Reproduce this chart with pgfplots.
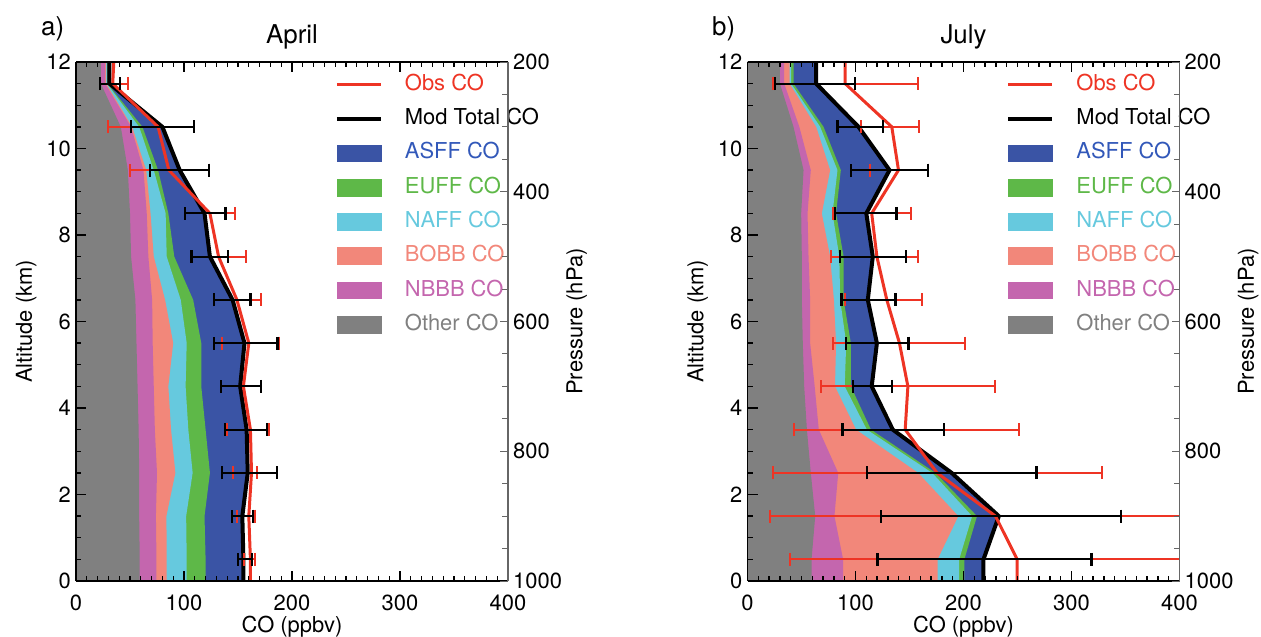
\documentclass[border=0pt]{standalone}
\usepackage{pgfplots}
\pgfplotsset{compat=1.18}
\usepackage{pgfplotstable}
\usepackage{fontspec}
\setmainfont{TeX Gyre Heros}

\definecolor{cother}{RGB}{128,128,128}
\definecolor{cnbbb}{RGB}{196,102,174}
\definecolor{cbobb}{RGB}{242,135,122}
\definecolor{cnaff}{RGB}{102,201,222}
\definecolor{ceuff}{RGB}{94,184,72}
\definecolor{casff}{RGB}{58,84,165}
\definecolor{cobs}{RGB}{238,52,36}
\definecolor{tasff}{RGB}{50,88,185}

% cumulative boundaries (ppbv): c1 Other, c2 +NBBB, c3 +BOBB, c4 +NAFF, c5 +EUFF, c6 +ASFF (= Mod total)
% last two rows close each area back along x = 0
\pgfplotstableread{
alt c1 c2 c3 c4 c5 c6
0 59 74.5 84 102.5 120 155
0.5 59 74.5 84 102.5 120 155
1.5 58.5 74 83.7 102 119 154
2.5 58.5 75 92 108 124 159
3.5 58 73 88 104 120 158
4.5 57 72 85.5 101.5 116 152
5.5 56 71 90 102.5 116 156
6.5 55 70.5 82.5 97 108.5 145
7.5 51 67 72 84 91 124
8.5 50 65.5 69 83 85.5 119
9.5 48 62.5 65 72 76 96
10.5 41.5 51 52 58.5 61.5 80
11.5 23 27 28 28.6 29.2 31
12 23 27 28 28.6 29.2 31
12 0 0 0 0 0 0
0 0 0 0 0 0 0
}\areaA

\pgfplotstableread{
alt mod obs
0 155 161.5
0.5 155 161.5
1.5 154 160
2.5 159 162.5
3.5 158 161.5
4.5 152 155
5.5 156 160
6.5 145 149
7.5 124 132
8.5 119 124
9.5 96 86
10.5 80 76
11.5 31 34
12 31 35
}\lineA

\pgfplotstableread{
alt c1 c2 c3 c4 c5 c6
0 59.3 88.5 176 196 200.8 218.5
0.5 59.3 88.5 176 196 200.8 218.5
1.5 62.7 80.5 195.2 208 212.5 232.7
2.5 58.6 84 158 171 174 189
3.5 55 66 100.5 110.5 114.3 134.5
4.5 52.5 62.2 81 90 95.7 115
5.5 51.2 58 82 91.4 95.7 119.8
6.5 50.3 58 80 85.8 89 111.4
7.5 50.3 56.5 76.5 85 89 116
8.5 49.7 55.6 68.8 78.7 82 110
9.5 51.9 58.6 76.5 83.3 86.4 131.5
10.5 42.6 48 63.6 67.3 70.4 102.8
11.5 30 34 39 40.4 42.6 63.6
12 30 34 39 40.4 42.6 63.6
12 0 0 0 0 0 0
0 0 0 0 0 0 0
}\areaB

\pgfplotstableread{
alt mod obs
0 218.5 249.7
0.5 218.5 249.7
1.5 232.7 229.6
2.5 189 175.5
3.5 134.5 146
4.5 115 148.5
5.5 119.8 140.7
6.5 111.4 129
7.5 116 119.8
8.5 110 115
9.5 131.5 139.8
10.5 102.8 133.6
11.5 63.6 90.4
12 63.6 90.4
}\lineB

\pgfplotstableread{
alt mod em ep
0.5 155 5 8
1.5 154 9.4 10
2.5 159 24 27
3.5 158 20 19
4.5 152 18 19
5.5 156 28 30.5
6.5 145 17 16.5
7.5 124 17 16.6
8.5 119 18.4 19.5
9.5 96 27.4 27
10.5 80 29 29
11.5 31 9 10
}\merrA

\pgfplotstableread{
alt obs em ep
0.5 161.5 6.1 4.5
1.5 160 11 6
2.5 162.5 17.5 5.5
3.5 161.5 21.5 17.5
5.5 160 25 28
6.5 149 21 22
7.5 132 25 25.5
8.5 124 23.4 22.8
9.5 86 36 37
10.5 76 46 33
11.5 34 12 13.7
}\oerrA

\pgfplotstableread{
alt mod em ep
0.5 218.5 98.1 100
1.5 232.7 109.2 113.3
2.5 189 78.5 78.6
3.5 134.5 46.5 47.5
4.5 115 17.5 18.5
5.5 119.8 28.4 29.2
6.5 111.4 24.4 25.6
7.5 116 30.2 30.6
8.5 110 29 28
9.5 131.5 35.8 35.5
10.5 102.8 19.5 22.5
11.5 63.6 38 36.1
}\merrB

\pgfplotstableread{
alt obs em ep
0.5 249.7 210.2 210.3
1.5 229.6 209.2 210.4
2.5 175.5 151.7 152.3
3.5 146 103.2 105
4.5 148.5 80 80.5
5.5 140.7 62 60.8
6.5 129 38.6 33
7.5 119.8 42.3 38.2
8.5 115 36 36
9.5 139.8 26.8 27.2
10.5 133.6 28.6 25.4
11.5 90.4 66.4 67.6
}\oerrB

% pressure axis range (hPa), linear from 200 at top to 1000 at bottom
\pgfplotstableread{
x p
0 200
400 1000
}\presrange

\pgfplotsset{
  panel/.style={
    scale only axis, width=432bp, height=519bp, anchor=south west,
    xmin=0, xmax=400, ymin=0, ymax=12,
    axis y line*=left,
    xtick={0,100,200,300,400}, xticklabels={0,100,200,300,400},
    minor x tick num=9,
    ytick={0,2,4,6,8,10,12}, yticklabels={0,2,4,6,8,10,12},
    minor y tick num=3,
    tick align=inside, ytick pos=left, xtick pos=both,
    axis line style={line width=1.6bp},
    tick style={black, line width=1.3bp},
    major tick length=10bp, minor tick length=5bp,
    ticklabel style={font=\fontsize{22}{24}\selectfont},
    xticklabel style={anchor=base, yshift=-29bp, inner sep=0pt},
    yticklabel style={anchor=east, inner sep=0pt, xshift=-5bp},
    label style={font=\fontsize{22}{26}\selectfont},
    xlabel={CO (ppbv)},
    xlabel style={at={(axis description cs:0.5,-0.0983)}, anchor=base},
    ylabel={Altitude (km)},
    ylabel style={at={(axis description cs:-0.102,0.5)}, anchor=base},
    title style={font=\fontsize{26}{30}\selectfont, at={(axis description cs:0.5,1.025)}, anchor=base},
    axis on top,
    legend cell align=left,
    legend style={draw=none, fill=none, at={(axis description cs:0.5995,0.9764)}, anchor=north west,
      inner sep=0pt, outer sep=0pt, row sep=13.8bp,
      font=\fontsize{22}{24}\selectfont,
      nodes={inner sep=0pt, text height=16bp, text depth=4.5bp},
      /tikz/every odd column/.append style={column sep=22bp}},
  },
  presaxis/.style={
    scale only axis, width=432bp, height=519bp, anchor=south west,
    xmin=0, xmax=400, ymin=200, ymax=1000, y dir=reverse,
    axis y line*=right, axis x line=none,
    axis line style={black!60, line width=1.2bp},
    ytick={200,400,600,800,1000}, yticklabels={200,400,600,800,1000},
    minor y tick num=3, tick align=inside,
    tick style={black!60, line width=1bp},
    major tick length=8bp, minor tick length=6bp,
    ticklabel style={font=\fontsize{22}{24}\selectfont},
    yticklabel style={anchor=west, inner sep=0pt, xshift=5bp},
    ylabel={Pressure (hPa)},
    label style={font=\fontsize{22}{26}\selectfont},
    ylabel style={at={(axis description cs:1.172,0.5)}, anchor=base},
  },
  lineleg/.style={legend image code/.code={\draw[##1, line cap=butt] (0bp,0bp) -- (44bp,0bp);}},
  boxleg/.style={legend image code/.code={\fill[##1] (0bp,-8.35bp) rectangle (44bp,8.35bp);}},
}

\newcommand{\mylegend}{%
  \addlegendimage{lineleg, cobs, line width=3.3bp}
  \addlegendentry{\textcolor{cobs}{Obs CO}}
  \addlegendimage{lineleg, black, line width=4bp}
  \addlegendentry{Mod Total CO}
  \addlegendimage{boxleg, casff}
  \addlegendentry{\textcolor{tasff}{ASFF CO}}
  \addlegendimage{boxleg, ceuff}
  \addlegendentry{\textcolor{ceuff}{EUFF CO}}
  \addlegendimage{boxleg, cnaff}
  \addlegendentry{\textcolor{cnaff}{NAFF CO}}
  \addlegendimage{boxleg, cbobb}
  \addlegendentry{\textcolor{cbobb}{BOBB CO}}
  \addlegendimage{boxleg, cnbbb}
  \addlegendentry{\textcolor{cnbbb}{NBBB CO}}
  \addlegendimage{boxleg, cother}
  \addlegendentry{\textcolor{cother}{Other CO}}
}

% #1 area table, #2 line table, #3 model error table, #4 obs error table
\newcommand{\drawpanel}[4]{%
  \addplot[fill=casff, draw=none, forget plot] table[x=c6, y=alt]{#1};
  \addplot[fill=ceuff, draw=none, forget plot] table[x=c5, y=alt]{#1};
  \addplot[fill=cnaff, draw=none, forget plot] table[x=c4, y=alt]{#1};
  \addplot[fill=cbobb, draw=none, forget plot] table[x=c3, y=alt]{#1};
  \addplot[fill=cnbbb, draw=none, forget plot] table[x=c2, y=alt]{#1};
  \addplot[fill=cother, draw=none, forget plot] table[x=c1, y=alt]{#1};
  \addplot[black, line width=4bp, line join=round, forget plot] table[x=mod, y=alt]{#2};
  \addplot[cobs, line width=3bp, line join=round, forget plot] table[x=obs, y=alt]{#2};
  \addplot[draw=none, mark=none, forget plot,
    error bars/.cd, x dir=both, x explicit, error mark=|,
    error bar style={draw=cobs, line width=2bp},
    error mark options={draw=cobs, mark size=6.5bp, line width=2bp}]
    table[x=obs, y=alt, x error minus=em, x error plus=ep]{#4};
  \addplot[draw=none, mark=none, forget plot,
    error bars/.cd, x dir=both, x explicit, error mark=|,
    error bar style={draw=black, line width=2.2bp},
    error mark options={draw=black, mark size=6.5bp, line width=2.2bp}]
    table[x=mod, y=alt, x error minus=em, x error plus=ep]{#3};
}

\begin{document}
\begin{tikzpicture}
\useasboundingbox (0,0) rectangle (1261bp,637bp);

% ---------------- Panel a ----------------
\begin{axis}[panel, at={(76bp,56bp)}, title={April}]
\mylegend
\drawpanel{\areaA}{\lineA}{\merrA}{\oerrA}
\end{axis}
\begin{axis}[presaxis, at={(76bp,56bp)}]
\addplot[draw=none, forget plot] table[x=x, y=p]{\presrange};
\end{axis}
\node[anchor=base west, font=\fontsize{26}{30}\selectfont, inner sep=0pt] at (41bp,601bp) {a)};

% ---------------- Panel b ----------------
\begin{axis}[panel, at={(747.5bp,56bp)}, title={July}]
\mylegend
\drawpanel{\areaB}{\lineB}{\merrB}{\oerrB}
\end{axis}
\begin{axis}[presaxis, at={(747.5bp,56bp)}]
\addplot[draw=none, forget plot] table[x=x, y=p]{\presrange};
\end{axis}
\node[anchor=base west, font=\fontsize{26}{30}\selectfont, inner sep=0pt] at (712bp,601bp) {b)};
\end{tikzpicture}
\end{document}
